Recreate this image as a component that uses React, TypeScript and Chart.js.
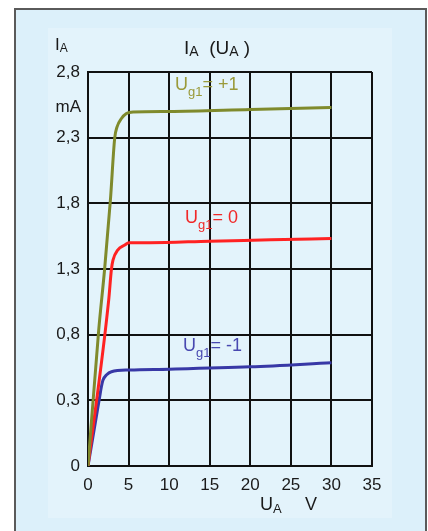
import React, { useEffect, useRef } from "react";
import { Chart, registerables } from "chart.js";

Chart.register(...registerables);

// ---- data ----
const uA_pos1 = [0, 1.32, 2.05, 2.76, 3.29, 3.58, 4.12, 4.73, 5.55, 10, 20, 30];
const iA_pos1 = [-0.2, 0.835, 1.3, 1.824, 2.296, 2.382, 2.446, 2.484, 2.496, 2.5, 2.515, 2.53];

const uA_zero = [0, 2.55, 2.89, 3.08, 3.66, 4.53, 5.02, 7.6, 15, 22.5, 30];
const iA_zero = [-0.2, 1.063, 1.3, 1.368, 1.444, 1.482, 1.499, 1.5, 1.512, 1.522, 1.533];

const uA_neg1 = [0, 1.44, 1.65, 1.85, 2.3, 2.89, 5.14, 10, 20, 30];
const iA_neg1 = [-0.2, 0.327, 0.403, 0.454, 0.495, 0.518, 0.531, 0.537, 0.555, 0.586];

const seriesNames = ["Ug1= +1", "Ug1= 0", "Ug1= -1"];
const yTickLabels = ["0", "0,3", "0,8", "1,3", "1,8", "2,3", "2,8"];
const xMin = 0, xMax = 35, xStep = 5;
const yMin = -0.2, yMax = 2.8, yStep = 0.5;

const FONT = "'Liberation Sans', Arial, Helvetica, sans-serif";
const TXT = "#1a1a1a";

type Part = { t: string; s: number; dy?: number };

function drawRich(ctx: CanvasRenderingContext2D, x: number, y: number, parts: Part[], color: string) {
  ctx.save();
  ctx.fillStyle = color;
  ctx.textBaseline = "alphabetic";
  ctx.textAlign = "left";
  let cx = x;
  for (const p of parts) {
    ctx.font = `${p.s}px ${FONT}`;
    ctx.fillText(p.t, cx, y + (p.dy || 0));
    cx += ctx.measureText(p.t).width;
  }
  ctx.restore();
}

const textPlugin = {
  id: "richText",
  afterDraw(chart: any) {
    const ctx = chart.ctx as CanvasRenderingContext2D;
    // axis captions
    drawRich(ctx, 55, 50, [{ t: "I", s: 17 }, { t: "A", s: 12, dy: 2 }], TXT);
    ctx.save();
    ctx.font = `17px ${FONT}`;
    ctx.fillStyle = TXT;
    ctx.textAlign = "right";
    ctx.fillText("mA", 81, 112);
    ctx.restore();
    drawRich(ctx, 184, 54, [
      { t: "I", s: 19 }, { t: "A", s: 14, dy: 2 }, { t: "  (", s: 19 },
      { t: "U", s: 19 }, { t: "A", s: 14, dy: 2 }, { t: " )", s: 19 },
    ], TXT);
    drawRich(ctx, 260, 510, [{ t: "U", s: 18 }, { t: "A", s: 13, dy: 3 }], TXT);
    drawRich(ctx, 305, 510, [{ t: "V", s: 18 }], TXT);
    // curve labels
    const labs = [
      { x: 175, y: 90, c: "#9a9a3a" },
      { x: 185, y: 223, c: "#f02828" },
      { x: 183, y: 351, c: "#4848b0" },
    ];
    labs.forEach((l, i) => {
      const name = seriesNames[i];
      drawRich(ctx, l.x, l.y, [
        { t: name.slice(0, 1), s: 18 },
        { t: name.slice(1, 3), s: 13, dy: 6 },
        { t: name.slice(3), s: 18 },
      ], l.c);
    });
  },
};

const toXY = (xs: number[], ys: number[]) => xs.map((x, i) => ({ x, y: ys[i] }));

export default function App() {
  const ref = useRef<HTMLCanvasElement | null>(null);
  useEffect(() => {
    if (!ref.current) return;
    const chart = new Chart(ref.current, {
      type: "line",
      data: {
        datasets: [
          { label: seriesNames[0], data: toXY(uA_pos1, iA_pos1), borderColor: "#7f8a2c" },
          { label: seriesNames[1], data: toXY(uA_zero, iA_zero), borderColor: "#ff2222" },
          { label: seriesNames[2], data: toXY(uA_neg1, iA_neg1), borderColor: "#3838a6" },
        ],
      },
      options: {
        animation: false,
        responsive: false,
        maintainAspectRatio: false,
        layout: { padding: { left: 0, right: 56, top: 72, bottom: 0 } },
        plugins: { legend: { display: false }, title: { display: false }, tooltip: { enabled: false } },
        elements: {
          point: { radius: 0 },
          line: { borderWidth: 3, cubicInterpolationMode: "monotone", fill: false },
        },
        scales: {
          x: {
            type: "linear",
            min: xMin,
            max: xMax,
            ticks: {
              stepSize: xStep,
              padding: 9,
              color: TXT,
              font: { family: FONT, size: 17 },
              maxRotation: 0,
              autoSkip: false,
            },
            grid: { color: "#111", lineWidth: 2, drawTicks: false },
            border: { display: true, color: "#111", width: 2 },
            afterFit: (s: any) => { s.height = 65; },
          },
          y: {
            type: "linear",
            min: yMin,
            max: yMax,
            ticks: {
              stepSize: yStep,
              padding: 8,
              color: TXT,
              font: { family: FONT, size: 17 },
              autoSkip: false,
              callback: (_v: any, i: number) => yTickLabels[i],
            },
            grid: { color: "#111", lineWidth: 2, drawTicks: false },
            border: { display: true, color: "#111", width: 2 },
            afterFit: (s: any) => { s.width = 88; },
          },
        },
      } as any,
      plugins: [textPlugin],
    });
    return () => chart.destroy();
  }, []);

  return (
    <div style={{ position: "absolute", left: 0, top: 0, width: 428, height: 531, background: "#fff", overflow: "hidden" }}>
      <div
        style={{
          position: "absolute", left: 14, top: 8, width: 413, height: 523, boxSizing: "border-box",
          borderLeft: "2px solid #5a5a5a", borderTop: "2px solid #5a5a5a", borderRight: "2px solid #5a5a5a",
          background: "#dcf0fa",
        }}
      />
      <div style={{ position: "absolute", left: 48, top: 28, width: 344, height: 490, background: "#e3f3fb" }} />
      <canvas ref={ref} width={428} height={531} style={{ position: "absolute", left: 0, top: 0, width: 428, height: 531 }} />
    </div>
  );
}
